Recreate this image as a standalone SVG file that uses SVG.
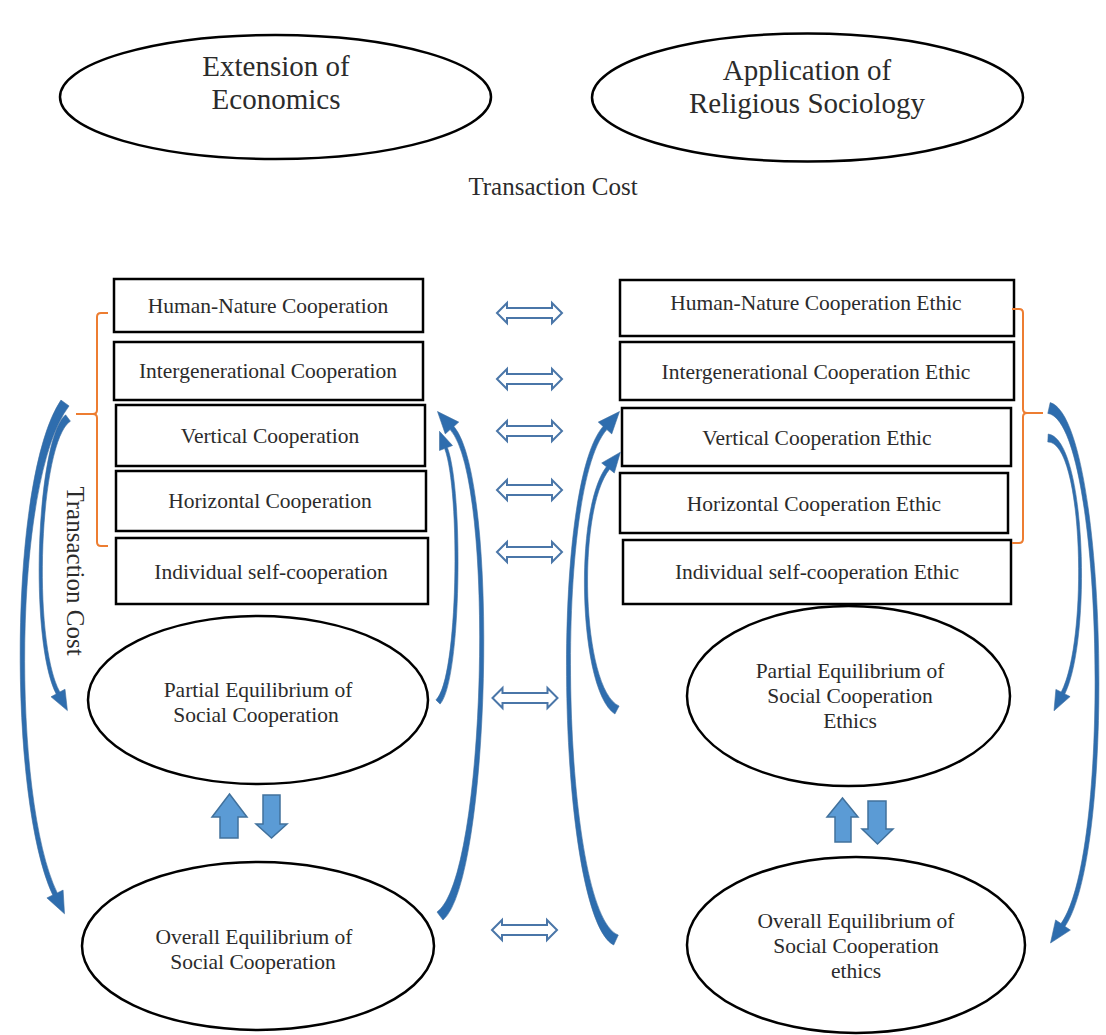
<svg xmlns="http://www.w3.org/2000/svg" width="1106" height="1035" viewBox="0 0 1106 1035">
<style>
.shape{fill:#fff;stroke:#000;stroke-width:2.5}
.t{font-family:"Liberation Serif","Times New Roman",serif;fill:#2b2b2b;text-anchor:middle}
.big{font-size:29px}
.mid{font-size:25px}
.box{font-size:21.5px}
.ell{font-size:21.5px}
.curve{fill:#2e6dae;stroke:#3f6f9f;stroke-width:0.6}
.dbl{fill:#fff;stroke:#4a76a8;stroke-width:2}
.blk{fill:#5b9bd5;stroke:#41719c;stroke-width:1.5}
.br{fill:none;stroke:#ed7d31;stroke-width:2}
</style>
<defs>
<path id="dbl" d="M-32.5,0 L-22.5,-10 L-22.5,-5 L22.5,-5 L22.5,-10 L32.5,0 L22.5,10 L22.5,5 L-22.5,5 L-22.5,10 Z"/>
</defs>
<rect width="1106" height="1035" fill="#fff"/>

<g id="node-extension">
<ellipse class="shape" cx="275.5" cy="97" rx="215.5" ry="62"/>
<text class="t big" x="276" y="76">Extension of</text>
<text class="t big" x="276" y="109">Economics</text>
</g>
<g id="node-application">
<ellipse class="shape" cx="807.5" cy="97.5" rx="215.5" ry="64"/>
<text class="t big" x="807" y="80">Application of</text>
<text class="t big" x="807" y="113">Religious Sociology</text>
</g>
<g id="label-tc-top"><text class="t mid" x="553" y="195">Transaction Cost</text></g>
<g id="label-tc-left"><text class="t mid" x="75" y="579" transform="rotate(90 75 571)">Transaction Cost</text></g>

<g id="node-l1"><rect class="shape" x="114" y="279" width="309" height="53"/><text class="t box" x="268" y="313">Human-Nature Cooperation</text></g>
<g id="node-l2"><rect class="shape" x="114" y="342" width="309" height="58"/><text class="t box" x="268" y="378">Intergenerational Cooperation</text></g>
<g id="node-l3"><rect class="shape" x="116" y="405" width="309" height="61"/><text class="t box" x="270" y="443">Vertical Cooperation</text></g>
<g id="node-l4"><rect class="shape" x="116" y="471" width="310" height="60"/><text class="t box" x="270" y="508">Horizontal Cooperation</text></g>
<g id="node-l5"><rect class="shape" x="116" y="538" width="312" height="66"/><text class="t box" x="271" y="579">Individual self-cooperation</text></g>

<g id="node-r1"><rect class="shape" x="620" y="280" width="394" height="56"/><text class="t box" x="816" y="310">Human-Nature Cooperation Ethic</text></g>
<g id="node-r2"><rect class="shape" x="620" y="342" width="394" height="58"/><text class="t box" x="816" y="379">Intergenerational Cooperation Ethic</text></g>
<g id="node-r3"><rect class="shape" x="622" y="408" width="389" height="58"/><text class="t box" x="817" y="445">Vertical Cooperation Ethic</text></g>
<g id="node-r4"><rect class="shape" x="620" y="473" width="388" height="60"/><text class="t box" x="814" y="511">Horizontal Cooperation Ethic</text></g>
<g id="node-r5"><rect class="shape" x="623" y="540" width="388" height="64"/><text class="t box" x="817" y="579">Individual self-cooperation Ethic</text></g>

<g id="node-partial-left">
<ellipse class="shape" cx="258" cy="700" rx="170" ry="84"/>
<text class="t ell" x="258" y="697">Partial Equilibrium of</text>
<text class="t ell" x="256" y="722">Social Cooperation</text>
</g>
<g id="node-overall-left">
<ellipse class="shape" cx="258" cy="946" rx="176" ry="84"/>
<text class="t ell" x="254" y="944">Overall Equilibrium of</text>
<text class="t ell" x="253" y="969">Social Cooperation</text>
</g>
<g id="node-partial-right">
<ellipse class="shape" cx="848.5" cy="696" rx="161.5" ry="90"/>
<text class="t ell" x="850" y="678">Partial Equilibrium of</text>
<text class="t ell" x="850" y="703">Social Cooperation</text>
<text class="t ell" x="850" y="728">Ethics</text>
</g>
<g id="node-overall-right">
<ellipse class="shape" cx="856" cy="945" rx="169" ry="88"/>
<text class="t ell" x="856" y="928">Overall Equilibrium of</text>
<text class="t ell" x="856" y="953">Social Cooperation</text>
<text class="t ell" x="856" y="978">ethics</text>
</g>

<g id="connectors">
<path class="br" d="M108,313 H101 Q97,313 97,317 V410 Q97,414 93,414 H76 M93,414 Q97,414 97,418 V542 Q97,546 101,546 H108"/>
<path class="br" d="M1012,309 H1019 Q1023,309 1023,313 V409 Q1023,413 1027,413 H1043 M1027,413 Q1023,413 1023,417 V539 Q1023,543 1019,543 H1012"/>

<use href="#dbl" class="dbl" x="529.5" y="313"/>
<use href="#dbl" class="dbl" x="529.5" y="379"/>
<use href="#dbl" class="dbl" x="529.5" y="431"/>
<use href="#dbl" class="dbl" x="529.5" y="490"/>
<use href="#dbl" class="dbl" x="529.5" y="552"/>
<use href="#dbl" class="dbl" x="525" y="698"/>
<use href="#dbl" class="dbl" x="524.5" y="930"/>

<path class="blk" d="M229.5,794 L247,817 L238,817 L238,838 L220,838 L220,817 L212,817 Z"/>
<path class="blk" d="M263,795 H280 V824 H287 L271.5,838 L256,824 H263 Z"/>
<path class="blk" d="M842.5,798 L858,817 H851 V842 H835 V817 H827 Z"/>
<path class="blk" d="M868,801 H886 V829 H893 L877.5,844 L862,829 H868 Z"/>

<path class="curve" d="M60.95,400.1 C8,479 8,800 52.75,895.1 L46.9,897.9 L64.5,913.8 L63.1,890.1 L57.25,892.9 C12,800 12,481 69.05,405.9 Z"/>
<path class="curve" d="M65.6,414.8 C36.5,439 28.5,640 56.2,694 L51,696.8 L67.4,710.6 L65,689.2 L59.8,692 C31.5,640 39.5,441 70.4,421.2 Z"/>
<path class="curve" d="M443,920 C490,881 500,480 453.9,426.4 L458.75,422.1 L437.5,411.5 L445.25,433.9 L450.1,429.6 C496,480 486,879 437,912 Z"/>
<path class="curve" d="M440.1,704.1 C461.5,680.5 463.5,490 447.4,447.5 L452.5,445.5 L439.5,431.3 L439.5,450.5 L444.6,448.5 C460.5,490 458.5,679.5 435.9,699.9 Z"/>
<path class="curve" d="M613.7,945 C558,916 548,490 603.1,426.4 L598.25,422.1 L619.5,411.5 L611.75,433.9 L606.9,429.6 C552,490 562,914 618.3,935 Z"/>
<path class="curve" d="M614.9,714 C578.5,691 573.5,510 606.4,466.8 L601.7,463 L620.4,452.2 L614.3,473 L609.6,469.2 C576.5,510 581.5,689 619.1,706 Z"/>
<path class="curve" d="M1050.2,402.6 C1107,419 1117,850 1065,926.4 L1070.4,930.1 L1050.5,943 L1055.6,919.9 L1061,923.6 C1113,850 1103,421 1047.8,413.4 Z"/>
<path class="curve" d="M1048.2,434 C1086.5,439 1091.5,640 1064.8,693.9 L1070.1,696.6 L1054,710.8 L1055.9,689.4 L1061.2,692.1 C1088.5,640 1083.5,441 1047.8,442 Z"/>
</g>
</svg>
